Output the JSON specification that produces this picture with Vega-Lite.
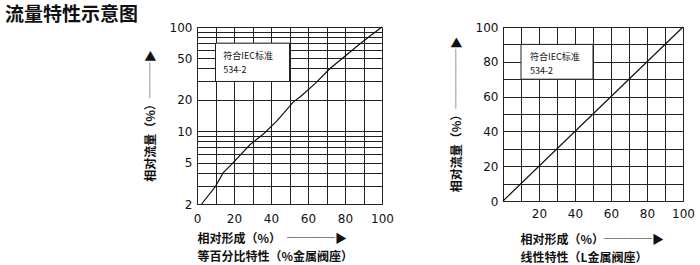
{
  "$schema": "https://vega.github.io/schema/vega-lite/v6.json",
  "background": "white",
  "padding": {"left": 5, "top": 5, "right": 5, "bottom": 0},
  "title": {"text": "流量特性示意图", "anchor": "start", "frame": "group", "dx": -192, "font": "Noto Sans CJK SC", "fontSize": 19, "fontWeight": "bold", "color": "#111", "offset": -4},
  "spacing": 121,
  "bounds": "flush",
  "config": {
    "view": {"stroke": "#222", "strokeWidth": 1},
    "axis": {
      "domain": false, "ticks": false, "grid": true, "gridColor": "#222", "gridOpacity": 1, "gridWidth": 1,
      "labelFont": "DejaVu Sans", "labelFontSize": 12, "labelColor": "#111", "labelPadding": 5,
      "labelOverlap": false, "labelFlush": false,
      "titleFont": "Noto Sans CJK SC", "titleFontSize": 12, "titleFontWeight": "bold", "titleColor": "#111"
    }
  },
  "datasets": {
    "curveEq": [
      {"x": 2.5, "y": 2}, {"x": 9.7, "y": 2.9}, {"x": 14.2, "y": 4.0}, {"x": 18.7, "y": 4.8},
      {"x": 28.6, "y": 7.4}, {"x": 35.9, "y": 9.4}, {"x": 43.1, "y": 12.5}, {"x": 52, "y": 19},
      {"x": 56, "y": 21.5}, {"x": 63.8, "y": 28.6}, {"x": 71.9, "y": 40}, {"x": 78, "y": 49},
      {"x": 86.3, "y": 65}, {"x": 93.5, "y": 82}, {"x": 100, "y": 100}
    ],
    "curveLin": [{"x": 0, "y": 0}, {"x": 100, "y": 100}],
    "boxEq": [{"x": 10, "x2": 50, "y": 30, "y2": 70}],
    "boxLin": [{"x": 10, "x2": 50, "y": 70, "y2": 90}],
    "noteEq": [{"x": 14.2, "y": 53, "label": "符合IEC标准"}, {"x": 14.2, "y": 39, "label": "534-2"}],
    "noteLin": [{"x": 15, "y": 83, "label": "符合IEC标准"}, {"x": 15, "y": 75, "label": "534-2"}]
  },
  "hconcat": [
    {
      "width": 185, "height": 177,
      "encoding": {
        "x": {"field": "x", "type": "quantitative", "scale": {"domain": [0, 100], "nice": false},
          "axis": {"values": [0, 10, 20, 30, 40, 50, 60, 70, 80, 90, 100],
            "labelExpr": "datum.value % 20 === 0 ? datum.label : ''", "labelPadding": 9,
            "title": ["相对形成（%）　────▶", "等百分比特性（%金属阀座）"],
            "titleAlign": "left", "titleAnchor": "start", "titleX": 0, "titlePadding": 9, "titleLineHeight": 18}},
        "y": {"field": "y", "type": "quantitative", "scale": {"type": "log", "domain": [2, 100], "nice": false},
          "axis": {"values": [2, 3, 4, 5, 6, 7, 8, 9, 10, 20, 30, 40, 50, 60, 70, 80, 90, 100],
            "labelExpr": "(datum.value == 2 || datum.value == 5 || datum.value == 10 || datum.value == 20 || datum.value == 50 || datum.value == 100) ? format(datum.value, 'd') : ''",
            "title": "相对流量（%）───▶", "titlePadding": 12}}
      },
      "layer": [
        {"data": {"name": "boxEq"}, "mark": {"type": "rect", "fill": "white", "stroke": "#222", "strokeWidth": 1},
          "encoding": {"x2": {"field": "x2"}, "y2": {"field": "y2"}}},
        {"data": {"name": "curveEq"}, "mark": {"type": "line", "color": "#111", "strokeWidth": 1.2}},
        {"data": {"name": "noteEq"}, "mark": {"type": "text", "align": "left", "baseline": "middle", "font": "Noto Sans CJK SC", "fontSize": 9, "color": "#111"},
          "encoding": {"text": {"field": "label"}}}
      ]
    },
    {
      "width": 180, "height": 174,
      "encoding": {
        "x": {"field": "x", "type": "quantitative", "scale": {"domain": [0, 100], "nice": false},
          "axis": {"values": [0, 10, 20, 30, 40, 50, 60, 70, 80, 90, 100],
            "labelExpr": "(datum.value % 20 === 0 && datum.value > 0) ? datum.label : ''", "labelPadding": 7,
            "title": ["相对形成（%）────▶", "线性特性（L金属阀座）"],
            "titleAlign": "left", "titleAnchor": "start", "titleX": 17, "titlePadding": 15, "titleLineHeight": 18}},
        "y": {"field": "y", "type": "quantitative", "scale": {"domain": [0, 100], "nice": false},
          "axis": {"values": [0, 10, 20, 30, 40, 50, 60, 70, 80, 90, 100],
            "labelExpr": "datum.value % 20 === 0 ? datum.label : ''",
            "title": "相对流量（%）─────▶", "titlePadding": 12}}
      },
      "layer": [
        {"data": {"name": "boxLin"}, "mark": {"type": "rect", "fill": "white", "stroke": "#222", "strokeWidth": 1},
          "encoding": {"x2": {"field": "x2"}, "y2": {"field": "y2"}}},
        {"data": {"name": "curveLin"}, "mark": {"type": "line", "color": "#111", "strokeWidth": 1.2}},
        {"data": {"name": "noteLin"}, "mark": {"type": "text", "align": "left", "baseline": "middle", "font": "Noto Sans CJK SC", "fontSize": 9, "color": "#111"},
          "encoding": {"text": {"field": "label"}}}
      ]
    }
  ]
}
